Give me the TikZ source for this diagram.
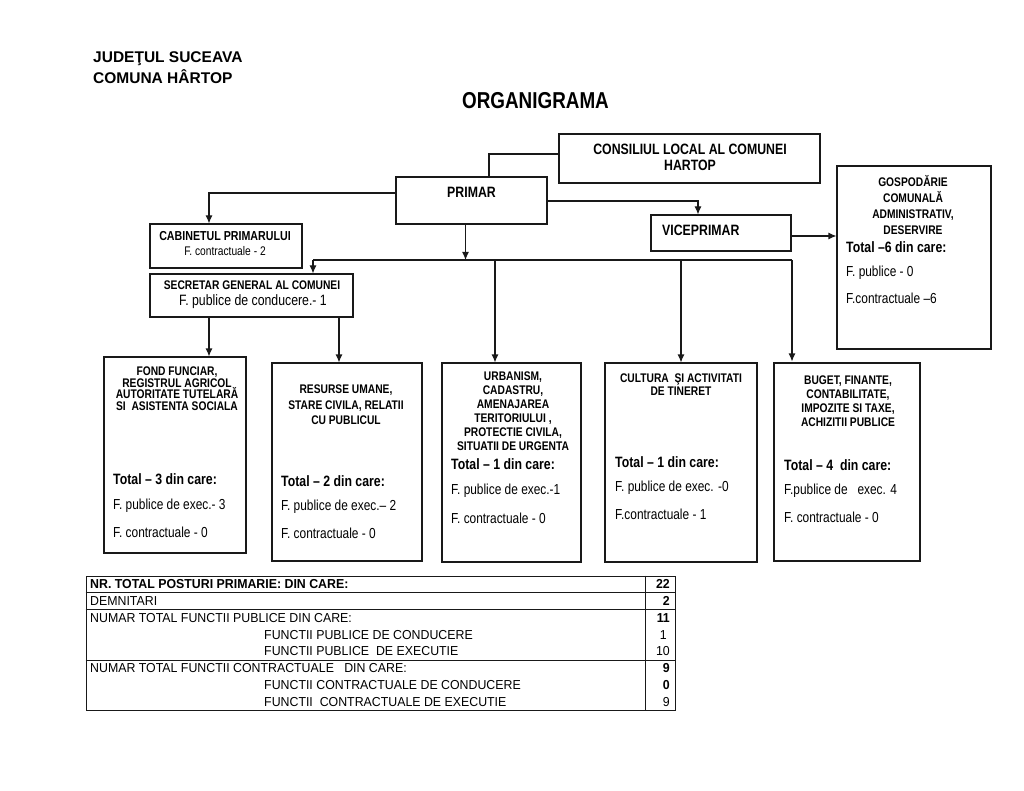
\documentclass[tikz,border=0pt]{standalone}
\usepackage{fontspec}
\setmainfont{Liberation Sans}
\newfontfamily\nf[FakeStretch=0.82]{Liberation Sans}
\newfontfamily\tf[FakeStretch=0.95]{Liberation Sans}
\usetikzlibrary{arrows.meta,fit}
\begin{document}
\begin{tikzpicture}[x=1pt,y=-1pt,
  box/.style={draw=black!90, line width=1.1pt, inner sep=0pt},
  ln/.style={draw=black!90, line width=1.1pt},
  tln/.style={draw=black!90, line width=0.8pt},
  arr/.style={draw=black!90, line width=1.1pt, -{Latex[length=8pt,width=7pt]}},
  hdr/.style={font=\bfseries\fontsize{15.5}{18}\selectfont, anchor=west, inner sep=0pt},
  big/.style={font=\nf\bfseries\fontsize{15}{16.5}\selectfont, align=center, inner sep=0pt},
  ttl/.style={font=\nf\bfseries\fontsize{12.5}{#1}\selectfont, align=center, inner sep=0pt},
  ttl/.default=11,
  tot/.style={font=\nf\bfseries\fontsize{15}{17}\selectfont, anchor=west, inner sep=0pt},
  txt/.style={font=\nf\fontsize{14.5}{17}\selectfont, anchor=west, inner sep=0pt},
  tb/.style={font=\tf\fontsize{13}{15}\selectfont, anchor=west, inner sep=0pt},
  tbb/.style={font=\tf\bfseries\fontsize{13}{15}\selectfont, anchor=west, inner sep=0pt},
  num/.style={font=\tf\fontsize{13}{15}\selectfont, anchor=east, inner sep=0pt},
  numb/.style={font=\tf\bfseries\fontsize{13}{15}\selectfont, anchor=east, inner sep=0pt}
]
\useasboundingbox[fill=white] (0,0) rectangle (1024,791);

% header
\node[hdr] (h1) at (93,59) {JUDEŢUL SUCEAVA};
\node[hdr] (h2) at (93,77) {COMUNA HÂRTOP};
\node[font=\nf\bfseries\fontsize{23}{26}\selectfont, inner sep=0pt] (title) at (535.5,101) {ORGANIGRAMA};

% top boxes
\node[box, fit={(559,134) (820,183)}] (cons) {};
\node[big] (consT) at (690,157.5) {CONSILIUL LOCAL AL COMUNEI\\HARTOP};
\node[box, fit={(396,177) (547,224)}] (prim) {};
\node[big] (primT) at (471.5,192) {PRIMAR};
\node[box, fit={(651,215) (791,251)}] (vice) {};
\node[big, anchor=west] (viceT) at (662,230) {VICEPRIMAR};
\node[box, fit={(150,224) (302,268)}] (cab) {};
\node[font=\nf\bfseries\fontsize{13}{14}\selectfont, inner sep=0pt] (cabT1) at (225,236.5) {CABINETUL PRIMARULUI};
\node[font=\nf\fontsize{12.5}{14}\selectfont, inner sep=0pt] (cabT2) at (225,251.5) {F. contractuale - 2};
\node[box, fit={(150,274) (353,317)}] (sec) {};
\node[font=\nf\bfseries\fontsize{12.5}{14}\selectfont, inner sep=0pt] (secT1) at (252,285) {SECRETAR GENERAL AL COMUNEI};
\node[font=\nf\fontsize{15}{17}\selectfont, inner sep=0pt] (secT2) at (253,302) {F. publice de conducere.- 1};

% gospodarie
\node[box, fit={(837,166) (991,349)}] (gosp) {};
\node[ttl=16] (gospT) at (913,205) {GOSPODĂRIE\\COMUNALĂ\\ADMINISTRATIV,\\DESERVIRE};
\node[tot] (gosp1) at (846,247) {Total –6 din care:};
\node[txt] (gosp2) at (846,273) {F. publice - 0};
\node[txt] (gosp3) at (846,298) {F.contractuale –6};

% departments
\node[box, fit={(104,357) (246,553)}] (fond) {};
\node[ttl=11.5] (fondT) at (177,388.5) {FOND FUNCIAR,\\REGISTRUL AGRICOL\\AUTORITATE TUTELARĂ\\SI\ \ ASISTENTA SOCIALA};
\node[tot] (fond1) at (113,479) {Total – 3 din care:};
\node[txt] (fond2) at (113,506) {F. publice de exec.- 3};
\node[txt] (fond3) at (113,532) {F. contractuale - 0};

\node[box, fit={(272,363) (422,561)}] (res) {};
\node[ttl=15.5] (resT) at (346,404.7) {RESURSE UMANE,\\STARE CIVILA, RELATII\\CU PUBLICUL};
\node[tot] (res1) at (281,481) {Total – 2 din care:};
\node[txt] (res2) at (281,507) {F. publice de exec.– 2};
\node[txt] (res3) at (281,533) {F. contractuale - 0};

\node[box, fit={(442,363) (581,562)}] (urb) {};
\node[ttl=14] (urbT) at (513,410.7) {URBANISM,\\CADASTRU,\\AMENAJAREA\\TERITORIULUI ,\\PROTECTIE CIVILA,\\SITUATII DE URGENTA};
\node[tot] (urb1) at (451,464) {Total – 1 din care:};
\node[txt] (urb2) at (451,491) {F. publice de exec.-1};
\node[txt] (urb3) at (451,518) {F. contractuale - 0};

\node[box, fit={(605,363) (757,562)}] (cul) {};
\node[ttl=13.5] (culT) at (681,384.5) {CULTURA\ \ ŞI ACTIVITATI\\DE TINERET};
\node[tot] (cul1) at (615,462) {Total – 1 din care:};
\node[txt] (cul2) at (615,488) {F. publice de exec. -0};
\node[txt] (cul3) at (615,514) {F.contractuale - 1};

\node[box, fit={(774,363) (920,561)}] (bug) {};
\node[ttl=14] (bugT) at (848,401) {BUGET, FINANTE,\\CONTABILITATE,\\IMPOZITE SI TAXE,\\ACHIZITII PUBLICE};
\node[tot] (bug1) at (784,465) {Total – 4\ \ din care:};
\node[txt] (bug2) at (784,491) {F.publice de\ \ \ exec. 4};
\node[txt] (bug3) at (784,517) {F. contractuale - 0};

% connectors
\coordinate (k1) at (489,154);
\draw[ln] (k1 -| cons.west) -- (k1) -- (k1 |- prim.north);
\coordinate (k2) at (209,193);
\draw[arr] (k2 -| prim.west) -- (k2) -- (k2 |- cab.north);
\coordinate (k3) at (698,201);
\draw[arr] (k3 -| prim.east) -- (k3) -- (k3 |- vice.north);
\coordinate (k4) at (800,236);
\draw[arr] (k4 -| vice.east) -- (k4 -| gosp.west);
\coordinate (bus) at (465.5,260);
\draw[arr] (bus |- prim.south) -- (bus);
\coordinate (busL) at (313,260);
\coordinate (busR) at (792,260);
\draw[ln] (busL) -- (busR);
\draw[arr] (busL) -- (busL |- sec.north);
\coordinate (b3) at (495,260);
\draw[arr] (b3) -- (b3 |- urb.north);
\draw[arr] (cul.north |- busL) -- (cul.north);
\draw[arr] (busR) -- ([yshift=1pt]busR |- bug.north);
\coordinate (s1) at (209,330);
\draw[arr] (s1 |- sec.south) -- (s1 |- fond.north);
\coordinate (s2) at (339,330);
\draw[arr] (s2 |- sec.south) -- (s2 |- res.north);

% table
\node[draw=black!90, line width=0.8pt, inner sep=0pt, fit={(86,576) (675,710)}] (tab) {};
\coordinate (tc) at (645,0);
\draw[tln] (tc |- tab.north) -- (tc |- tab.south);
\foreach \yy in {592.8,609.5,660} \draw[tln] (tab.west |- 0,\yy) -- (tab.east |- 0,\yy);
\node[tbb] (r1) at (90,584.4) {NR. TOTAL POSTURI PRIMARIE: DIN CARE:};
\node[tb] (r2) at (90,601.1) {DEMNITARI};
\node[tb] (r3) at (90,617.9) {NUMAR TOTAL FUNCTII PUBLICE DIN CARE:};
\node[tb] (r4) at (264,634.6) {FUNCTII PUBLICE DE CONDUCERE};
\node[tb] (r5) at (264,651.4) {FUNCTII PUBLICE\ \ DE EXECUTIE};
\node[tb] (r6) at (90,668.1) {NUMAR TOTAL FUNCTII CONTRACTUALE\ \ \ DIN CARE:};
\node[tb] (r7) at (264,684.9) {FUNCTII CONTRACTUALE DE CONDUCERE};
\node[tb] (r8) at (264,701.6) {FUNCTII\ \ CONTRACTUALE DE EXECUTIE};
\node[numb] (n1) at (670,584.4) {22};
\node[numb] (n2) at (670,601.1) {2};
\node[numb] (n3) at (670,617.9) {11};
\node[num] (n4) at (667,634.6) {1};
\node[num] (n5) at (670,651.4) {10};
\node[numb] (n6) at (670,668.1) {9};
\node[numb] (n7) at (670,684.9) {0};
\node[num] (n8) at (670,701.6) {9};
\end{tikzpicture}
\end{document}
